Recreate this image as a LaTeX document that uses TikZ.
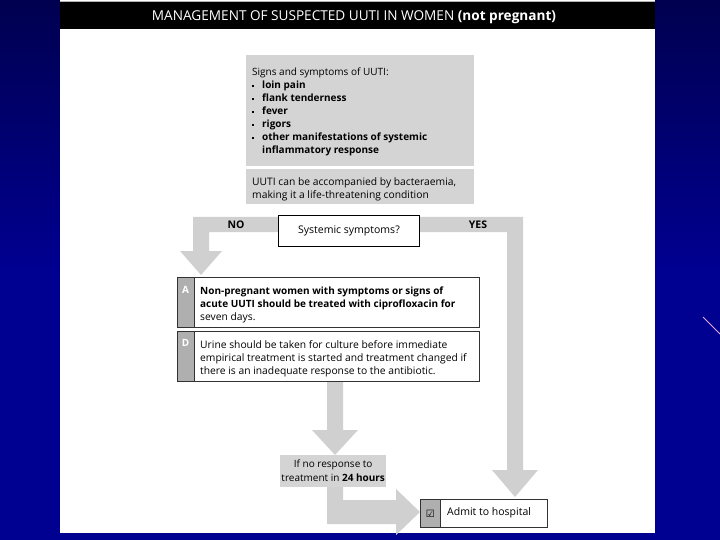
\documentclass[tikz,border=0pt]{standalone}
\usepackage{fontspec}
\setmainfont{Open Sans}
\newfontfamily\symfont{DejaVu Sans}
\definecolor{bgtop}{RGB}{0,0,80}
\definecolor{bgbot}{RGB}{0,0,145}
\definecolor{boxgray}{RGB}{212,212,212}
\definecolor{bandgray}{RGB}{208,208,208}
\definecolor{colgray}{RGB}{175,175,175}
\definecolor{edgegray}{RGB}{50,50,50}
\definecolor{pinkline}{RGB}{230,170,230}
\newcommand\bul{\makebox[10pt][l]{\rule[2pt]{2.2pt}{2.2pt}}}
\newcommand\bt[1]{{\fontsize{10}{13}\selectfont\bfseries #1}}
\begin{document}
\begin{tikzpicture}[x=1pt,y=-1pt,
  band/.style={fill=bandgray,draw=none},
  graybox/.style={fill=boxgray,draw=none,anchor=north west,inner sep=0pt},
  txt/.style={font=\fontsize{10.3}{13}\selectfont,align=left,anchor=north west,inner sep=0pt},
  recbox/.style={draw=edgegray,line width=0.9pt,fill=white,anchor=north west,inner sep=0pt},
  colbox/.style={fill=colgray,draw=edgegray,line width=0.9pt,anchor=north west,inner sep=0pt},
  lettr/.style={text=white,font=\fontsize{10}{11}\selectfont\bfseries,anchor=base,inner sep=0pt}]
\useasboundingbox (0,0) rectangle (720,540);
\shade[top color=bgtop,bottom color=bgbot,middle color=bgbot] (0,0) rectangle (720,540);
\draw[pinkline,line width=0.8pt] (703,317) -- (720,334);
\fill[white] (60,0) rectangle (655,533);
\fill[black] (60,2) rectangle (655,29);
\draw[gray!60,line width=0.8pt] (60,1) -- (655,1);
\node[text=white,font=\fontsize{13.6}{15}\selectfont,inner sep=0pt,anchor=base] (title) at (354,21)
  {MANAGEMENT OF SUSPECTED UUTI IN WOMEN \textbf{(not pregnant)}};

% signs box
\node[graybox,minimum width=228,minimum height=111] (signs) at (246,55) {};
\node[txt] (signstxt) at (252,68) {{\fontsize{10}{13}\selectfont Signs and symptoms of UUTI:}\\
\bul\bt{loin pain}\\
\bul\bt{flank tenderness}\\
\bul\bt{fever}\\
\bul\bt{rigors}\\
\bul\bt{other manifestations of systemic}\\
\hspace*{10pt}\bt{inflammatory response}};
\node[graybox,minimum width=228,minimum height=35] (bact) at (246,169) {};
\node[txt] (bacttxt) at (252,177) {UUTI can be accompanied by bacteraemia,\\making it a life-threatening condition};

% bands
\path[band] (278,217) -- (193,217) -- (193,251) -- (180,251) -- (201,275) -- (222,251)
  -- (209,251) -- (209,232) -- (278,232) -- cycle;
\path[band] (419,217) -- (523,217) -- (523,470) -- (538,470) -- (515,497) -- (492,470)
  -- (507,470) -- (507,232) -- (419,232) -- cycle;
\path[band] (327,381) -- (343,381) -- (343,430) -- (358,430) -- (335,455) -- (312,430)
  -- (327,430) -- cycle;
\path[band] (327,487) -- (343,487) -- (343,500) -- (396,500) -- (396,489) -- (420,512)
  -- (396,535) -- (396,524) -- (327,524) -- cycle;
\node[font=\fontsize{10.5}{12}\selectfont\bfseries,inner sep=0pt,anchor=base] (no) at (236,229) {NO};
\node[font=\fontsize{10.5}{12}\selectfont\bfseries,inner sep=0pt,anchor=base] (yes) at (478,229) {YES};

% systemic
\node[recbox,draw=black,minimum width=141,minimum height=31] (sys) at (278,215) {};
\node[font=\fontsize{10.5}{12}\selectfont,inner sep=0pt] (systxt) at (sys.center) {Systemic symptoms?};

% A box
\node[recbox,minimum width=302,minimum height=50] (boxA) at (177,277) {};
\node[colbox,minimum width=17,minimum height=50] (colA) at (177,277) {};
\node[lettr] (lA) at (185.5,293) {A};
\node[txt] (txtA) at (200,287) {\bt{Non-pregnant women with symptoms or signs of}\\
\bt{acute UUTI should be treated with ciprofloxacin for}\\seven days.};

% D box
\node[recbox,minimum width=302,minimum height=50] (boxD) at (177,331) {};
\node[colbox,minimum width=17,minimum height=50] (colD) at (177,331) {};
\node[lettr] (lD) at (185.5,346) {D};
\node[txt] (txtD) at (200,340) {Urine should be taken for culture before immediate\\
empirical treatment is started and treatment changed if\\there is an inadequate response to the antibiotic.};

% no response box
\node[graybox,minimum width=106,minimum height=32] (nores) at (280,455) {};
\node[font=\fontsize{10}{14}\selectfont,align=center,inner sep=0pt] (norestxt) at (nores.center)
  {If no response to\\treatment in \textbf{24 hours}};

% admit
\node[recbox,minimum width=127,minimum height=28] (admit) at (420,499) {};
\node[colbox,minimum width=20,minimum height=28] (admitcol) at (420,499) {};
\node[font=\symfont\fontsize{10}{11}\selectfont,inner sep=0pt] (chk) at (admitcol.center) {☑};
\node[font=\fontsize{10.5}{12}\selectfont,inner sep=0pt,anchor=west] (admittxt) at (447,513) {Admit to hospital};
\end{tikzpicture}
\end{document}
